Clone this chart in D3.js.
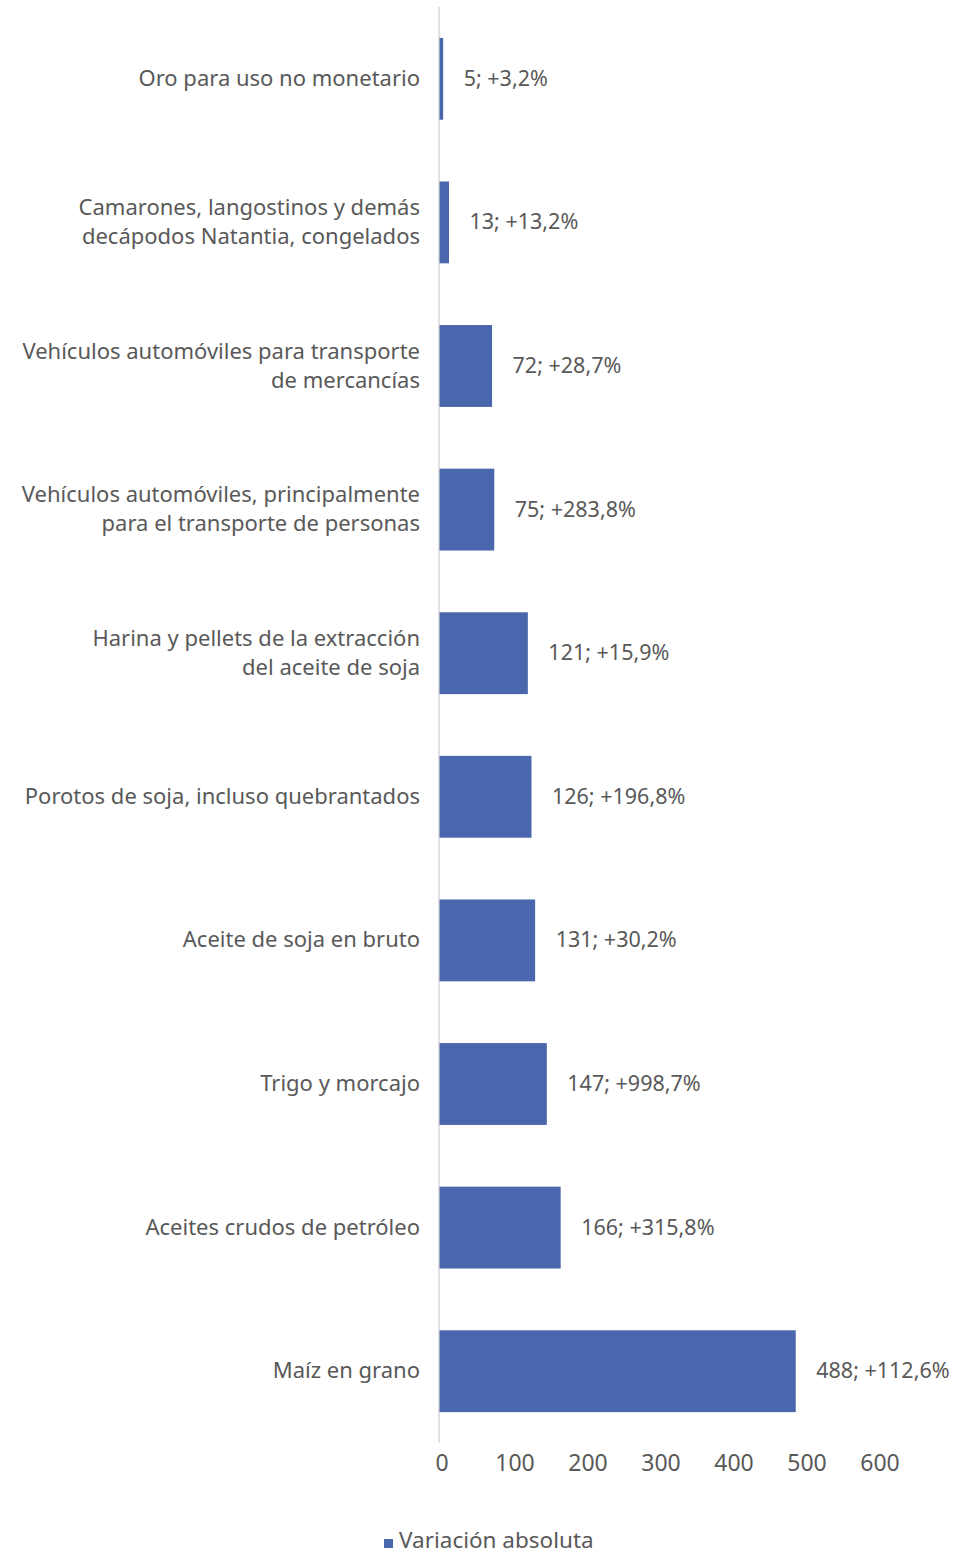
<!DOCTYPE html>
<html><head><meta charset="utf-8">
<script src="https://cdn.jsdelivr.net/npm/d3@7"></script>
<style>body{margin:0;background:#fff;} text{font-family:"Noto Sans",sans-serif;fill:#595959;}</style>
</head><body><svg id="c" width="957" height="1555"></svg>
<script>
const categories = [
  ["Oro para uso no monetario"],
  ["Camarones, langostinos y demás","decápodos Natantia, congelados"],
  ["Vehículos automóviles para transporte","de mercancías"],
  ["Vehículos automóviles, principalmente","para el transporte de personas"],
  ["Harina y pellets de la extracción","del aceite de soja"],
  ["Porotos de soja, incluso quebrantados"],
  ["Aceite de soja en bruto"],
  ["Trigo y morcajo"],
  ["Aceites crudos de petróleo"],
  ["Maíz en grano"]
];
const values = [5, 13, 72, 75, 121, 126, 131, 147, 166, 488];
const pctLabels = ["+3,2%","+13,2%","+28,7%","+283,8%","+15,9%","+196,8%","+30,2%","+998,7%","+315,8%","+112,6%"];
const ticks = [0,100,200,300,400,500,600];
const seriesName = "Variación absoluta";

const svg = d3.select("#c");
const x = d3.scaleLinear().domain([0,600]).range([439, 877]);
const y = d3.scaleBand().domain(d3.range(categories.length)).range([7, 1443]).paddingInner(0.43).paddingOuter(0.215);
const color = "#4A66AC";

svg.append("line").attr("x1",439).attr("x2",439).attr("y1",7).attr("y2",1443)
  .attr("stroke","#d9d9d9").attr("stroke-width",1.5);

svg.selectAll("rect.bar").data(values).join("rect").attr("class","bar")
  .attr("x", x(0)+0.5).attr("y",(d,i)=>y(i)).attr("height",y.bandwidth())
  .attr("width", d=>x(d)-x(0)).attr("fill",color);

svg.selectAll("text.val").data(values).join("text").attr("class","val")
  .attr("x", d=>x(d)+21).attr("y",(d,i)=>y(i)+y.bandwidth()/2+7)
  .attr("font-size",21.5).text((d,i)=>d+"; "+pctLabels[i]);

categories.forEach((lines,i)=>{
  const cy = y(i)+y.bandwidth()/2;
  const lh = 29;
  const t = svg.append("text").attr("text-anchor","end").attr("font-size",22);
  lines.forEach((l,j)=>{
    t.append("tspan").attr("x",420).attr("y", cy + 7 + (j-(lines.length-1)/2)*lh).text(l);
  });
});

const axis = d3.axisBottom(x).tickValues(ticks).tickSize(0).tickPadding(0);
const g = svg.append("g").attr("transform","translate(2.5,1471)").call(axis);
g.select(".domain").remove();
g.selectAll("text").attr("font-size",23).attr("fill","#595959").attr("dy",0)
  .style("font-family","'Noto Sans',sans-serif");

svg.append("rect").attr("x",384).attr("y",1539).attr("width",9).attr("height",9).attr("fill",color);
svg.append("text").attr("x",399).attr("y",1548).attr("font-size",22.5).text(seriesName);
</script></body></html>
